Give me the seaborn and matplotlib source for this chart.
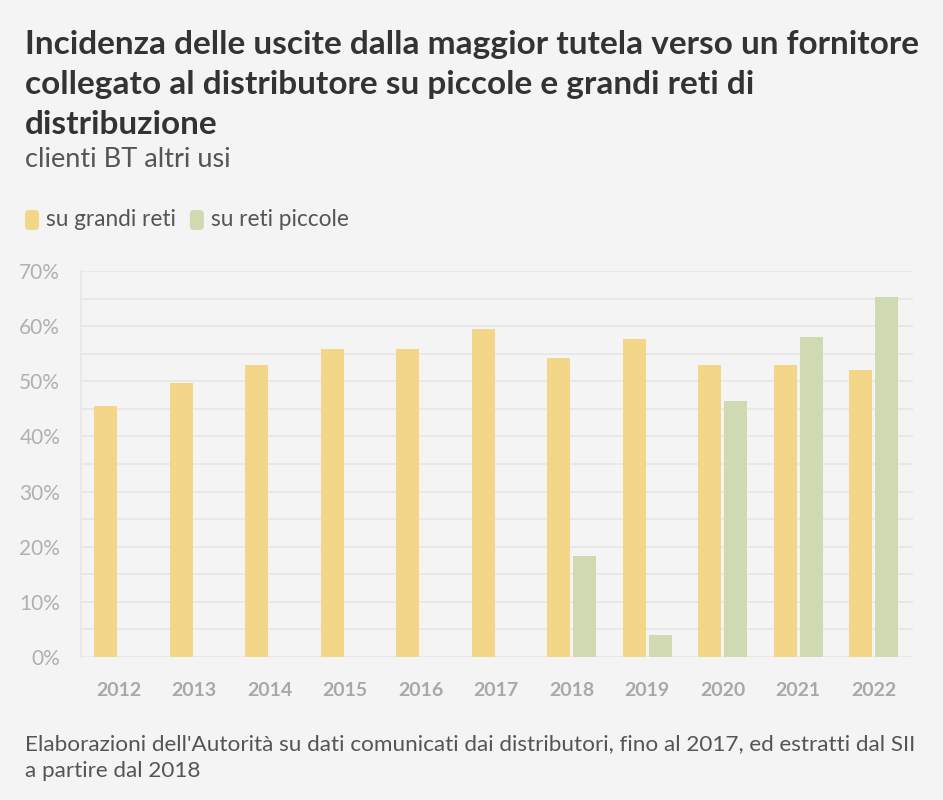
import numpy as np
import pandas as pd
import matplotlib
matplotlib.use("Agg")
import matplotlib.pyplot as plt
from matplotlib.patches import FancyBboxPatch
from matplotlib.ticker import MultipleLocator, FuncFormatter
import seaborn as sns

years = ["2012", "2013", "2014", "2015", "2016", "2017", "2018", "2019", "2020", "2021", "2022"]
grandi_reti = [45.5, 49.6, 52.9, 55.9, 55.9, 59.5, 54.3, 57.7, 53.0, 53.0, 52.0]
reti_piccole = [np.nan, np.nan, np.nan, np.nan, np.nan, np.nan, 18.4, 4.0, 46.4, 58.0, 65.2]
series_names = ["su grandi reti", "su reti piccole"]

title_lines = ["Incidenza delle uscite dalla maggior tutela verso un fornitore",
               "collegato al distributore su piccole e grandi reti di",
               "distribuzione"]
subtitle = "clienti BT altri usi"
footer_lines = ["Elaborazioni dell'Autorità su dati comunicati dai distributori, fino al 2017, ed estratti dal SII",
                "a partire dal 2018"]

colors = ["#F3D688", "#CFD9B2"]
BG = "#F4F4F4"
GRID = "#E6E6E6"

df = pd.DataFrame({
    "anno": years * 2,
    "valore": grandi_reti + reti_piccole,
    "serie": [series_names[0]] * len(years) + [series_names[1]] * len(years),
})

sns.set_theme(style="white")
plt.rcParams["font.family"] = ["Lato", "DejaVu Sans"]

W, H = 943, 800
fig = plt.figure(figsize=(W / 100, H / 100), dpi=100, facecolor=BG)
ax = fig.add_axes([81 / W, 1 - 657 / H, (913 - 81) / W, (657 - 271) / H])
ax.set_facecolor(BG)

sns.barplot(data=df, x="anno", y="valore", hue="serie", order=years,
            hue_order=series_names, palette=colors, width=0.69, gap=0.12,
            saturation=1, ax=ax, legend=False, edgecolor="none", linewidth=0)

ax.set_xlim(-0.5, 10.52)
ax.set_ylim(0, 70)
ax.yaxis.set_major_locator(MultipleLocator(10))
ax.yaxis.set_minor_locator(MultipleLocator(5))
ax.yaxis.set_major_formatter(FuncFormatter(lambda v, p: f"{int(v)}%"))
ax.grid(True, axis="y", which="both", color=GRID, linewidth=1.2)
ax.set_axisbelow(True)
for s in ["top", "right", "bottom"]:
    ax.spines[s].set_visible(False)
ax.spines["left"].set_color(GRID)
ax.spines["left"].set_linewidth(1.2)
ax.tick_params(axis="y", which="both", length=13, color=GRID, width=1.2,
               labelsize=15, labelcolor="#B0B0B0", pad=2)
ax.tick_params(axis="x", length=10, color=GRID, width=1.2, direction="out",
               labelsize=14, labelcolor="#A8A8A8", pad=8)
for lab in ax.get_xticklabels():
    lab.set_fontweight("bold")
ax.set_xlabel("")
ax.set_ylabel("")

# Title, subtitle
for i, line in enumerate(title_lines):
    fig.text(25 / W, 1 - (54 + 40 * i) / H, line, fontsize=24, fontweight="bold",
             color="#333333", va="baseline", ha="left")
fig.text(25 / W, 1 - 167 / H, subtitle, fontsize=19.5, color="#555555",
         va="baseline", ha="left")

# Legend
lx = 25
for i, (name, c) in enumerate(zip(series_names, colors)):
    box = FancyBboxPatch((lx / W, 1 - 230 / H), 14 / W, 20 / H,
                         boxstyle="round,pad=0,rounding_size=0.005",
                         transform=fig.transFigure, facecolor=c, edgecolor="none")
    fig.patches.append(box)
    t = fig.text((lx + 21) / W, 1 - 226 / H, name, fontsize=16.3, color="#555555",
                 va="baseline", ha="left")
    fig.canvas.draw()
    bb = t.get_window_extent()
    lx = bb.x1 + 14

# Footer
for i, line in enumerate(footer_lines):
    fig.text(25 / W, 1 - (750 + 27 * i) / H, line, fontsize=16.2, color="#555555",
             va="baseline", ha="left")

fig.savefig("out.png", dpi=100, facecolor=BG)
